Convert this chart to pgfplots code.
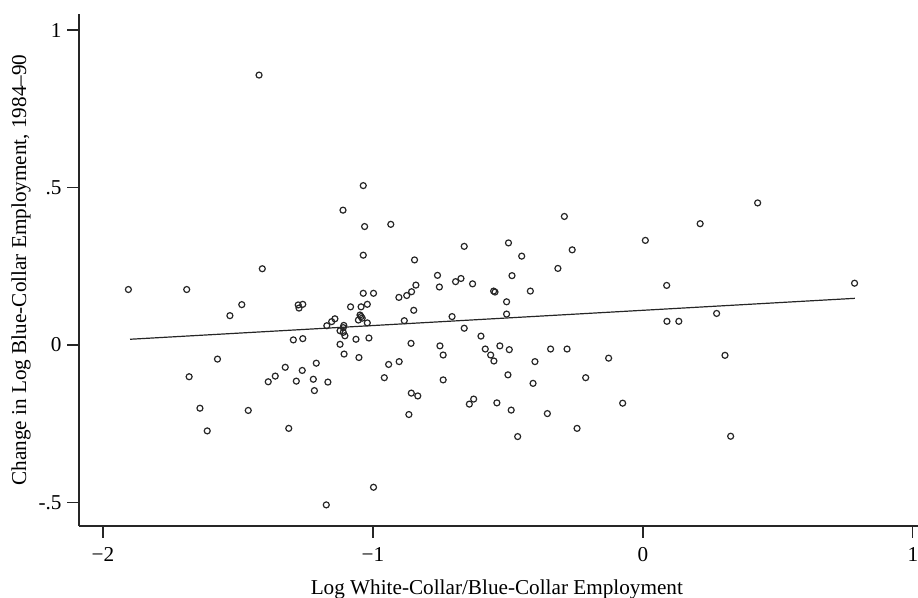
\documentclass[border=0pt]{standalone}
\usepackage{fontspec}
\setmainfont{Liberation Serif}
\usepackage{pgfplots}
\pgfplotsset{compat=1.18}
\begin{document}
\begin{tikzpicture}
\begin{axis}[
  name=ax,
  scale only axis, width=419.5pt, height=256pt,
  xmin=-2.089, xmax=1.019, ymin=-0.575, ymax=1.051,
  axis x line*=bottom, axis y line*=left,
  axis line style={line width=0.6pt,-,black!85},
  xtick={-2,-1,0,1}, xticklabels={−2,−1,0,1},
  ytick={-0.5,0,0.5,1}, yticklabels={-.5,0,.5,1},
  tick align=outside, major tick length=5.8pt,
  minor tick num=0,
  tick style={line width=0.6pt, black!85},
  tick label style={font=\fontsize{10.6}{12}\selectfont},
  yticklabel style={xshift=0.6pt},
  xticklabel style={yshift=-1.4pt},
  label style={font=\fontsize{10.6}{12}\selectfont},
  xlabel={Log White-Collar/Blue-Collar Employment},
  ylabel={Change in Log Blue-Collar Employment, 1984–90},
  xlabel style={at={(axis description cs:0.498,0)},anchor=center,yshift=-31.5pt},
  ylabel style={anchor=center},
  every axis y label/.append style={at={([xshift=-29pt]axis description cs:0,0.5)}},
  clip=false,
]
\addplot[only marks, mark=o, mark size=1.5pt, mark options={line width=0.6pt, black!85}] table {
x y
-1.906 0.176
-1.690 0.176
-1.486 0.128
-1.530 0.093
-1.576 -0.045
-1.681 -0.101
-1.641 -0.201
-1.614 -0.273
-1.462 -0.208
-1.422 0.857
-1.410 0.242
-1.388 -0.117
-1.362 -0.099
-1.325 -0.071
-1.312 -0.265
-1.295 0.016
-1.260 0.020
-1.277 0.127
-1.260 0.129
-1.274 0.117
-1.284 -0.115
-1.262 -0.081
-1.210 -0.058
-1.221 -0.109
-1.217 -0.145
-1.167 -0.118
-1.173 -0.508
-1.171 0.061
-1.153 0.074
-1.141 0.083
-1.111 0.428
-1.122 0.045
-1.110 0.055
-1.110 0.040
-1.108 0.062
-1.104 0.029
-1.122 0.002
-1.107 -0.029
-1.083 0.121
-1.063 0.018
-1.052 -0.040
-1.044 0.121
-1.021 0.129
-1.048 0.095
-1.044 0.090
-1.054 0.079
-1.040 0.085
-1.021 0.070
-1.015 0.022
-1.036 0.164
-0.998 0.164
-1.036 0.506
-1.031 0.376
-1.036 0.285
-0.998 -0.452
-0.934 0.383
-0.958 -0.104
-0.942 -0.062
-0.903 -0.053
-0.904 0.151
-0.875 0.157
-0.857 0.169
-0.841 0.190
-0.846 0.270
-0.884 0.077
-0.849 0.110
-0.859 0.005
-0.858 -0.153
-0.834 -0.162
-0.867 -0.221
-0.761 0.221
-0.754 0.184
-0.752 -0.003
-0.740 -0.032
-0.740 -0.111
-0.707 0.090
-0.694 0.201
-0.674 0.211
-0.662 0.313
-0.662 0.053
-0.631 0.194
-0.643 -0.188
-0.627 -0.172
-0.600 0.028
-0.584 -0.013
-0.564 -0.032
-0.552 -0.051
-0.553 0.171
-0.548 0.168
-0.530 -0.003
-0.541 -0.184
-0.505 0.137
-0.505 0.098
-0.498 0.324
-0.495 -0.015
-0.500 -0.095
-0.488 -0.207
-0.485 0.220
-0.464 -0.291
-0.449 0.282
-0.417 0.171
-0.407 -0.122
-0.400 -0.053
-0.354 -0.218
-0.342 -0.013
-0.315 0.243
-0.291 0.408
-0.281 -0.013
-0.262 0.302
-0.244 -0.265
-0.212 -0.104
-0.127 -0.042
-0.075 -0.185
0.009 0.332
0.088 0.189
0.089 0.075
0.133 0.075
0.212 0.385
0.273 0.100
0.304 -0.033
0.325 -0.290
0.425 0.451
0.784 0.196
};
\addplot[line width=0.6pt, black!85] coordinates {(-1.9,0.018) (0.785,0.148)};
\end{axis}
\pgfresetboundingbox
\path[use as bounding box] ([shift={(-39.5pt,-36pt)}]ax.south west) rectangle ([shift={(0pt,7pt)}]ax.north east);
\end{tikzpicture}
\end{document}
